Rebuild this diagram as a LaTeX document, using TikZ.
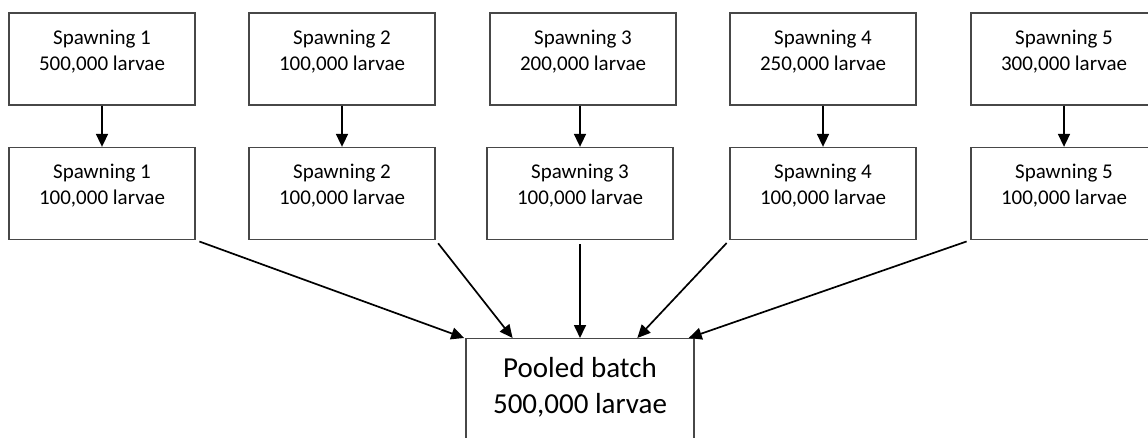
\documentclass[tikz,border=0pt]{standalone}
\usepackage{fontspec}
\setmainfont{Carlito}
\usetikzlibrary{arrows.meta,calc}

\tikzset{
  box/.style={draw=black!72, line width=1.3pt, rectangle, inner sep=0pt,
              minimum width=186pt, minimum height=92pt},
  pool/.style={draw=black!72, line width=1.3pt, rectangle, inner sep=0pt,
               minimum width=228pt, minimum height=200pt, anchor=north},
  lbl/.style={anchor=base, inner sep=0pt, font=\fontsize{21}{25}\selectfont},
  biglbl/.style={anchor=base, inner sep=0pt, font=\fontsize{29}{36}\selectfont},
  flow/.style={draw=black, line width=1.7pt,
               -{Triangle[length=13pt,width=12pt]}},
}

\begin{document}
\begin{tikzpicture}[x=1pt,y=-1pt]
\useasboundingbox (0,0) rectangle (1148,438);
\clip (0,0) rectangle (1148,438);

% first row: spawnings as collected
\node[box] (t1) at (102,59) {};
\node[box] (t2) at (342,59) {};
\node[box] (t3) at (583,59) {};
\node[box] (t4) at (823,59) {};
\node[box] (t5) at (1064,59) {};

% second row: subsamples kept from each spawning
\node[box] (b1) at (102,193.5) {};
\node[box] (b2) at (342,193.5) {};
\node[box] (b3) at (580,193.5) {};
\node[box] (b4) at (823,193.5) {};
\node[box] (b5) at (1064,193.5) {};

% pooled batch (runs off the bottom edge)
\node[pool] (p) at (580,338) {};

% labels, first row
\node[lbl] (t1a) at (102,45) {Spawning 1};
\node[lbl] (t1b) at (102,71) {500,000 larvae};
\node[lbl] (t2a) at (342,45) {Spawning 2};
\node[lbl] (t2b) at (342,71) {100,000 larvae};
\node[lbl] (t3a) at (583,45) {Spawning 3};
\node[lbl] (t3b) at (583,71) {200,000 larvae};
\node[lbl] (t4a) at (823,45) {Spawning 4};
\node[lbl] (t4b) at (823,71) {250,000 larvae};
\node[lbl] (t5a) at (1064,45) {Spawning 5};
\node[lbl] (t5b) at (1064,71) {300,000 larvae};

% labels, second row
\node[lbl] (b1a) at (102,179) {Spawning 1};
\node[lbl] (b1b) at (102,205) {100,000 larvae};
\node[lbl] (b2a) at (342,179) {Spawning 2};
\node[lbl] (b2b) at (342,205) {100,000 larvae};
\node[lbl] (b3a) at (580,179) {Spawning 3};
\node[lbl] (b3b) at (580,205) {100,000 larvae};
\node[lbl] (b4a) at (823,179) {Spawning 4};
\node[lbl] (b4b) at (823,205) {100,000 larvae};
\node[lbl] (b5a) at (1064,179) {Spawning 5};
\node[lbl] (b5b) at (1064,205) {100,000 larvae};

% pooled batch label
\node[biglbl] (pa) at (580,377) {Pooled batch};
\node[biglbl] (pb) at (580,413) {500,000 larvae};

% vertical arrows between rows
\foreach \i in {1,...,5}
  \draw[flow] (t\i.south -| b\i.north) -- (b\i.north);

% entry points along the top of the pooled box
\coordinate (e1) at ($(p.north west)!-0.005!(p.north east)$);
\coordinate (e2) at ($(p.north west)!0.206!(p.north east)$);
\coordinate (e3) at (p.north);
\coordinate (e4) at ($(p.north west)!0.75!(p.north east)$);
\coordinate (e5) at ($(p.north west)!0.974!(p.north east)$);

% converging arrows into the pool
\draw[flow, shorten <=4pt] (b1.south east) -- (e1);
\draw[flow, shorten <=4pt] (b2.south east) -- (e2);
\draw[flow, shorten <=4pt] (b3.south) -- (e3);
\draw[flow, shorten <=4pt] (b4.south west) -- (e4);
\draw[flow, shorten <=4pt] (b5.south west) -- (e5);
\end{tikzpicture}
\end{document}
